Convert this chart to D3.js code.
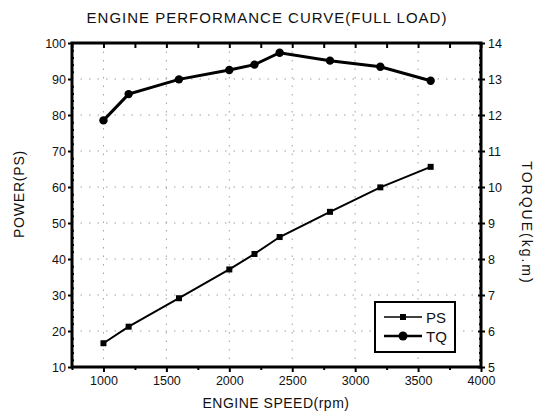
<!DOCTYPE html>
<html><head><meta charset="utf-8">
<script src="https://cdn.jsdelivr.net/npm/d3@7"></script>
<style>body{margin:0;background:#fff}svg{display:block}text{font-family:"Liberation Sans",Arial,sans-serif;fill:#111}</style>
</head><body><svg id="c" width="549" height="415"></svg>
<script>
const title = "ENGINE PERFORMANCE CURVE(FULL LOAD)";
const xLabel = "ENGINE SPEED(rpm)";
const yLeftLabel = "POWER(PS)";
const yRightLabel = "TORQUE(kg.m)";
const psRpm = [1000, 1200, 1600, 2000, 2200, 2400, 2800, 3200, 3600];
const psValues = [16.6, 21.2, 29.1, 37.1, 41.4, 46.1, 53.1, 59.9, 65.6];
const tqRpm = [1000, 1200, 1600, 2000, 2200, 2400, 2800, 3200, 3600];
const tqValues = [11.85, 12.58, 12.99, 13.25, 13.40, 13.73, 13.51, 13.34, 12.95];
const xTicks = [1000, 1500, 2000, 2500, 3000, 3500, 4000];
const yLeftTicks = [10, 20, 30, 40, 50, 60, 70, 80, 90, 100];
const yRightTicks = [5, 6, 7, 8, 9, 10, 11, 12, 13, 14];
const legendNames = ["PS", "TQ"];

const svg = d3.select("#c");
const L = 72, R = 481, T = 43, B = 367;
const x = d3.scaleLinear().domain([750, 4000]).range([L, R]);
const yL = d3.scaleLinear().domain([10, 100]).range([B, T]);
const yR = d3.scaleLinear().domain([5, 14]).range([B, T]);

// grid
const g = svg.append("g").attr("stroke", "#888").attr("stroke-width", 0.8).attr("stroke-dasharray", "1.5,7");
g.selectAll(".gx").data(xTicks.filter(d => d < 4000)).join("line")
  .attr("x1", d => x(d)).attr("x2", d => x(d)).attr("y1", T).attr("y2", B);
g.selectAll(".gy").data(yLeftTicks.filter(d => d > 10 && d < 100)).join("line")
  .attr("y1", d => yL(d)).attr("y2", d => yL(d)).attr("x1", L).attr("x2", R);

// axes
function styleAxis(sel) {
  sel.select(".domain").remove();
  sel.selectAll("line").attr("stroke", "#000").attr("stroke-width", 2);
  sel.selectAll("text").style("font-size", "12.5px").attr("fill", "#111");
}
const minorX = d3.range(750, 4001, 250);
svg.append("g").attr("transform", `translate(0,${B})`)
  .call(d3.axisBottom(x).tickValues(xTicks).tickSize(5).tickPadding(4).tickFormat(d3.format("d"))).call(styleAxis);
svg.append("g").attr("transform", `translate(0,${B})`)
  .call(d3.axisBottom(x).tickValues(minorX.filter(d => d % 500 !== 0)).tickSize(3).tickFormat("")).call(styleAxis);
svg.append("g").attr("transform", `translate(0,${T})`)
  .call(d3.axisBottom(x).tickValues(minorX).tickSize(5).tickFormat("")).call(styleAxis);
svg.append("g").attr("transform", `translate(${L},0)`)
  .call(d3.axisLeft(yL).tickValues(yLeftTicks).tickSize(4).tickPadding(2)).call(styleAxis);
svg.append("g").attr("transform", `translate(${L},0)`)
  .call(d3.axisRight(yL).tickValues(d3.range(12, 100, 2).filter(d => d % 10 !== 0)).tickSize(2).tickFormat("")).call(styleAxis);
svg.append("g").attr("transform", `translate(${R},0)`)
  .call(d3.axisRight(yR).tickValues(yRightTicks).tickSize(4).tickPadding(3)).call(styleAxis);
svg.append("g").attr("transform", `translate(${R},0)`)
  .call(d3.axisLeft(yR).tickValues(yRightTicks).tickSize(3).tickFormat("")).call(styleAxis);
svg.append("g").attr("transform", `translate(${R},0)`)
  .call(d3.axisLeft(yR).tickValues(d3.range(5.2, 14, 0.2).filter(d => Math.abs(d - Math.round(d)) > 0.05)).tickSize(2).tickFormat("")).call(styleAxis);

// frame
svg.append("rect").attr("x", L).attr("y", T).attr("width", R - L).attr("height", B - T)
  .attr("fill", "none").attr("stroke", "#000").attr("stroke-width", 3);

// lines
const psData = psRpm.map((r, i) => [r, psValues[i]]);
const tqData = tqRpm.map((r, i) => [r, tqValues[i]]);
svg.append("path").datum(psData).attr("fill", "none").attr("stroke", "#000").attr("stroke-width", 2)
  .attr("d", d3.line().x(d => x(d[0])).y(d => yL(d[1])));
svg.selectAll(".ps").data(psData).join("rect")
  .attr("x", d => x(d[0]) - 3).attr("y", d => yL(d[1]) - 3).attr("width", 6).attr("height", 6).attr("fill", "#000");
svg.append("path").datum(tqData).attr("fill", "none").attr("stroke", "#000").attr("stroke-width", 3)
  .attr("d", d3.line().x(d => x(d[0])).y(d => yR(d[1])));
svg.selectAll(".tq").data(tqData).join("circle")
  .attr("cx", d => x(d[0])).attr("cy", d => yR(d[1])).attr("r", 4.2).attr("fill", "#000");

// legend
const lg = svg.append("g");
lg.append("rect").attr("x", 375).attr("y", 302).attr("width", 80).attr("height", 50)
  .attr("fill", "#fff").attr("stroke", "#000").attr("stroke-width", 2);
legendNames.forEach((n, i) => {
  const yy = 317 + i * 19;
  lg.append("line").attr("x1", 384).attr("x2", 422).attr("y1", yy).attr("y2", yy)
    .attr("stroke", "#000").attr("stroke-width", i ? 2.5 : 1.5);
  if (i === 0) lg.append("rect").attr("x", 400).attr("y", yy - 3).attr("width", 6).attr("height", 6).attr("fill", "#000");
  else lg.append("circle").attr("cx", 403).attr("cy", yy).attr("r", 4.5).attr("fill", "#000");
  lg.append("text").attr("x", 426).attr("y", yy + 5.5).style("font-size", "15px").text(n);
});

// texts
svg.append("text").attr("x", 267).attr("y", 23).attr("text-anchor", "middle").style("font-size", "15px").style("letter-spacing", "1px").text(title);
svg.append("text").attr("x", 276).attr("y", 408).attr("text-anchor", "middle").style("font-size", "14px").style("letter-spacing", "0.5px").text(xLabel);
svg.append("text").attr("transform", "translate(24,194) rotate(-90)").attr("text-anchor", "middle").style("font-size", "14px").style("letter-spacing", "0.8px").text(yLeftLabel);
svg.append("text").attr("transform", "translate(522,223) rotate(90)").attr("text-anchor", "middle").style("font-size", "14px").style("letter-spacing", "2px").text(yRightLabel);
</script></body></html>
